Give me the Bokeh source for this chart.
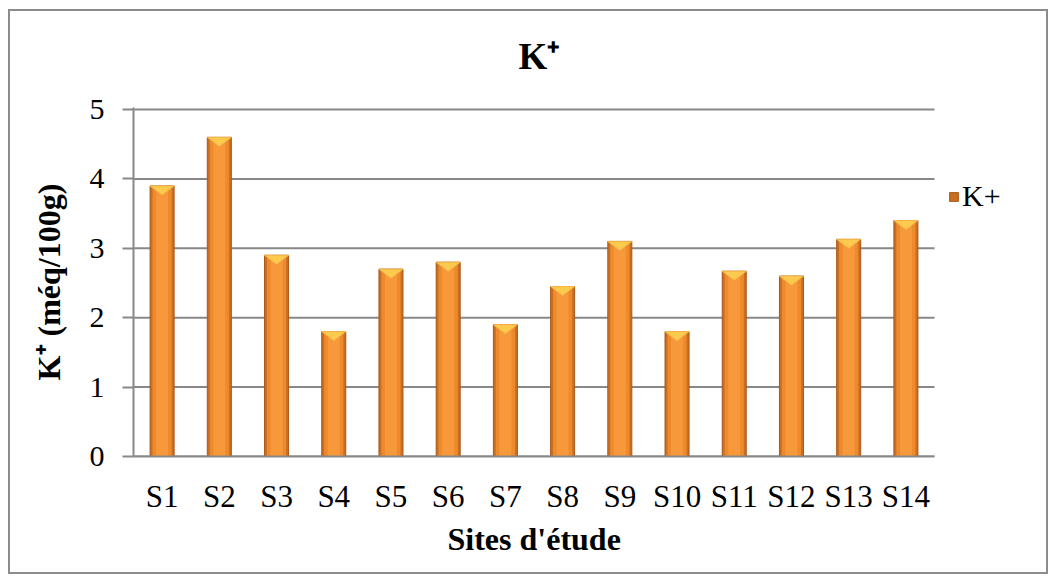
from bokeh.plotting import figure
from bokeh.models import Range1d, FixedTicker, Legend, LegendItem, InlineStyleSheet, Title
from bokeh.embed import file_html
from bokeh.resources import INLINE

# Potassium content per study site (méq/100g)
sites = ["S1", "S2", "S3", "S4", "S5", "S6", "S7", "S8", "S9", "S10", "S11", "S12", "S13", "S14"]
k_values = [3.9, 4.6, 2.9, 1.8, 2.7, 2.8, 1.9, 2.45, 3.1, 1.8, 2.67, 2.6, 3.13, 3.4]
y_ticks = [0, 1, 2, 3, 4, 5]

FONT = "Liberation Serif"
GRID = "#888888"

n = len(sites)
centers = [i + 0.5 for i in range(n)]

# the frame runs to the right edge so the legend can sit beside the bars;
# grid lines and the category axis stop at the last category
p = figure(
    width=1056, height=581,
    output_backend="svg", toolbar_location=None,
    x_range=Range1d(0, n + 122 / (801 / n)),
    y_range=Range1d(0, 5.03),
    min_border_left=133, min_border_right=0,
    min_border_top=107, min_border_bottom=125,
    background_fill_color="white", border_fill_color="white",
)
p.outline_line_color = None
# thin grey frame around the whole chart area
p.stylesheets = [InlineStyleSheet(css="""
:host { position: relative; }
:host::after {
  content: ""; position: absolute; z-index: 1000; pointer-events: none;
  left: 8px; top: 9px; right: 8px; bottom: 7px;
  border: 2px solid #8C8C8C;
}
""")]

# title K⁺
p.title.text = "K⁺"
p.title.align = "left"
p.title.offset = 385
p.title.standoff = 62
p.title.text_font = FONT
p.title.text_font_size = "37px"
p.title.text_font_style = "bold"
p.title.text_color = "black"

# horizontal grid lines across the category span
p.xgrid.grid_line_color = None
p.ygrid.grid_line_color = None
p.segment(x0=0, x1=n, y0=y_ticks, y1=y_ticks, line_color=GRID, line_width=2)

p.yaxis.ticker = FixedTicker(ticks=y_ticks)
p.yaxis.axis_line_color = GRID
p.yaxis.axis_line_width = 2
p.yaxis.major_tick_line_color = GRID
p.yaxis.major_tick_line_width = 2
p.yaxis.major_tick_out = 11
p.yaxis.major_tick_in = 0
p.yaxis.minor_tick_line_color = None
p.yaxis.major_label_standoff = 18
p.yaxis.major_label_text_font = FONT
p.yaxis.major_label_text_font_size = "30px"
p.yaxis.major_label_text_color = "black"
p.yaxis.axis_label = "K⁺ (méq/100g)"
p.yaxis.axis_label_standoff = 20
p.yaxis.axis_label_text_font = FONT
p.yaxis.axis_label_text_font_size = "32px"
p.yaxis.axis_label_text_font_style = "bold"
p.yaxis.axis_label_text_color = "black"

p.xaxis.bounds = (0, n)
p.xaxis.ticker = FixedTicker(ticks=centers)
p.xaxis.major_label_overrides = {c: s for c, s in zip(centers, sites)}
p.xaxis.axis_line_color = GRID
p.xaxis.axis_line_width = 2
p.xaxis.major_tick_line_color = None
p.xaxis.minor_tick_line_color = None
p.xaxis.major_label_standoff = 16
p.xaxis.major_label_text_font = FONT
p.xaxis.major_label_text_font_size = "31px"
p.xaxis.major_label_text_color = "black"

# x axis title, placed under the tick labels
p.add_layout(Title(text="Sites d'étude", align="left", offset=314, standoff=4,
                   text_font=FONT, text_font_size="32px", text_font_style="bold",
                   text_color="black"), "below")

# bevelled orange bars: rim, body, central highlight, light top facet
bw = 0.42
rim = p.vbar(x=centers, top=k_values, bottom=0, width=bw,
             fill_color="#C96F22", line_color="#A9581B", line_width=1)
p.vbar(x=centers, top=k_values, bottom=0, width=bw * 0.8,
       fill_color="#EE8A2C", line_color=None)
p.vbar(x=centers, top=k_values, bottom=0, width=bw * 0.5,
       fill_color="#F7993A", line_color=None)

facet = 0.13
xs = [[c - bw / 2, c + bw / 2, c] for c in centers]
ys = [[v, v, v - facet] for v in k_values]
p.patches(xs, ys, fill_color="#FCCB4E", line_color="#F5B54A", line_width=1)

# legend
legend = Legend(
    items=[LegendItem(label="K+", renderers=[rim])],
    location=(815, 243), padding=0, margin=0, spacing=0,
    glyph_width=11, glyph_height=11, label_standoff=3,
    label_text_font=FONT, label_text_font_size="30px", label_text_color="black",
    border_line_color=None, background_fill_alpha=0,
)
p.add_layout(legend)

open("out.html", "w").write(file_html(p, INLINE))
